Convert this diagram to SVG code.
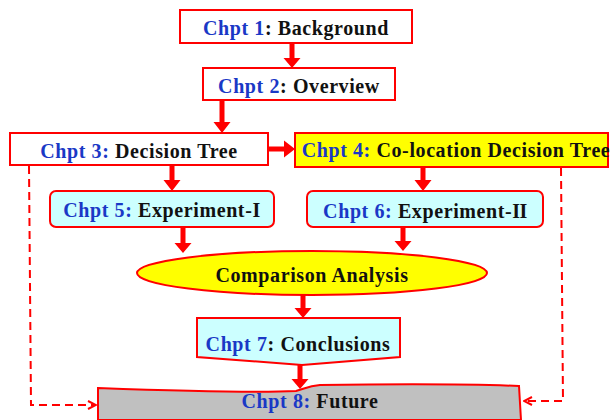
<svg xmlns="http://www.w3.org/2000/svg" width="610" height="420" viewBox="0 0 610 420">
  <defs>
    <marker id="open-head" viewBox="0 0 10 10" refX="9" refY="5" markerWidth="5" markerHeight="5" orient="auto" markerUnits="strokeWidth">
      <path d="M1,1 L9,5 L1,9" fill="none" stroke="#ff0000" stroke-width="2"/>
    </marker>
  </defs>
  <style>
    .box { stroke: #ff0000; stroke-width: 2; }
    .white { fill: #ffffff; }
    .yellow { fill: #ffff00; }
    .cyan { fill: #ccffff; }
    .grey { fill: #c0c0c0; }
    text { font-family: "Liberation Serif", "Times New Roman", serif; font-weight: bold; font-size: 20px; fill: #111111; text-anchor: middle; letter-spacing: 0.6px; }
    .num { fill: #1a38c6; }
    .roman { letter-spacing: -0.5px; }
    .flow { fill: #ff0000; }
    .dash { fill: none; stroke: #ff0000; stroke-width: 2; stroke-dasharray: 8 5; }
  </style>

  <!-- solid flow arrows and dashed feedback links -->
  <g id="connectors">
    <!-- 1 -> 2 -->
    <path class="flow" d="M289.5,43 h5 v15 h6 l-8.5,10 l-8.5,-10 h6 z"/>
    <!-- 2 -> 3 -->
    <path class="flow" d="M219.5,100 h5 v22 h6 l-8.5,11 l-8.5,-11 h6 z"/>
    <!-- 3 -> 4 -->
    <path class="flow" d="M268,146.5 v5 h16 v6 l11,-8.5 l-11,-8.5 v6 z"/>
    <!-- 3 -> 5 -->
    <path class="flow" d="M169.5,165 h5 v15 h6 l-8.5,11 l-8.5,-11 h6 z"/>
    <!-- 4 -> 6 -->
    <path class="flow" d="M420.5,167 h5 v13 h6 l-8.5,11 l-8.5,-11 h6 z"/>
    <!-- 5 -> analysis -->
    <path class="flow" d="M180.5,227 h5 v16 h6 l-8.5,10 l-8.5,-10 h6 z"/>
    <!-- 6 -> analysis -->
    <path class="flow" d="M400.5,227 h5 v14 h6 l-8.5,10 l-8.5,-10 h6 z"/>
    <!-- analysis -> 7 -->
    <path class="flow" d="M300.5,295 h5 v13 h6 l-8.5,10 l-8.5,-10 h6 z"/>
    <!-- 7 -> 8 -->
    <path class="flow" d="M297.5,364 h5 v15 h6 l-8.5,10 l-8.5,-10 h6 z"/>
    <!-- dashed links to chapter 8 -->
    <path class="dash" d="M29,166 L31,405 L96,405" marker-end="url(#open-head)"/>
    <path class="dash" d="M561,168 L563,401 L524,401" marker-end="url(#open-head)"/>
  </g>

  <g id="chpt1">
    <rect class="box white" x="180" y="10" width="232" height="33"/>
    <text x="296" y="35"><tspan class="num">Chpt 1</tspan>: Background</text>
  </g>

  <g id="chpt2">
    <rect class="box white" x="203" y="68" width="192" height="32"/>
    <text x="299" y="93"><tspan class="num">Chpt 2</tspan>: Overview</text>
  </g>

  <g id="chpt3">
    <rect class="box white" x="10" y="133" width="258" height="32"/>
    <text x="139" y="158"><tspan class="num">Chpt 3:</tspan> Decision Tree</text>
  </g>

  <g id="chpt4">
    <rect class="box yellow" x="295" y="133" width="313" height="34"/>
    <text x="456" y="157"><tspan class="num">Chpt 4:</tspan> Co-location Decision Tree</text>
  </g>

  <g id="chpt5">
    <rect class="box cyan" x="50" y="191" width="224" height="36" rx="6"/>
    <text x="162" y="217"><tspan class="num">Chpt 5:</tspan> Experiment-I</text>
  </g>

  <g id="chpt6">
    <rect class="box cyan" x="307" y="191" width="236" height="36" rx="6"/>
    <text x="425" y="218"><tspan class="num">Chpt 6:</tspan> Experiment-<tspan class="roman">II</tspan></text>
  </g>

  <g id="analysis">
    <ellipse class="box yellow" cx="312" cy="273" rx="175" ry="22"/>
    <text x="312" y="282">Comparison Analysis</text>
  </g>

  <g id="chpt7">
    <path class="box cyan" d="M197,318 H400 V357 L302,365 L197,357 Z"/>
    <text x="298" y="351"><tspan class="num">Chpt 7</tspan>: Conclusions</text>
  </g>

  <g id="chpt8">
    <path class="box grey" d="M98,388 C180,391 260,393 296,391 C304,389 308,386 320,385 C400,384 470,384 519,386 L521,420 L98,420 Z"/>
    <text x="310" y="408"><tspan class="num">Chpt 8:</tspan> Future</text>
  </g>
</svg>
